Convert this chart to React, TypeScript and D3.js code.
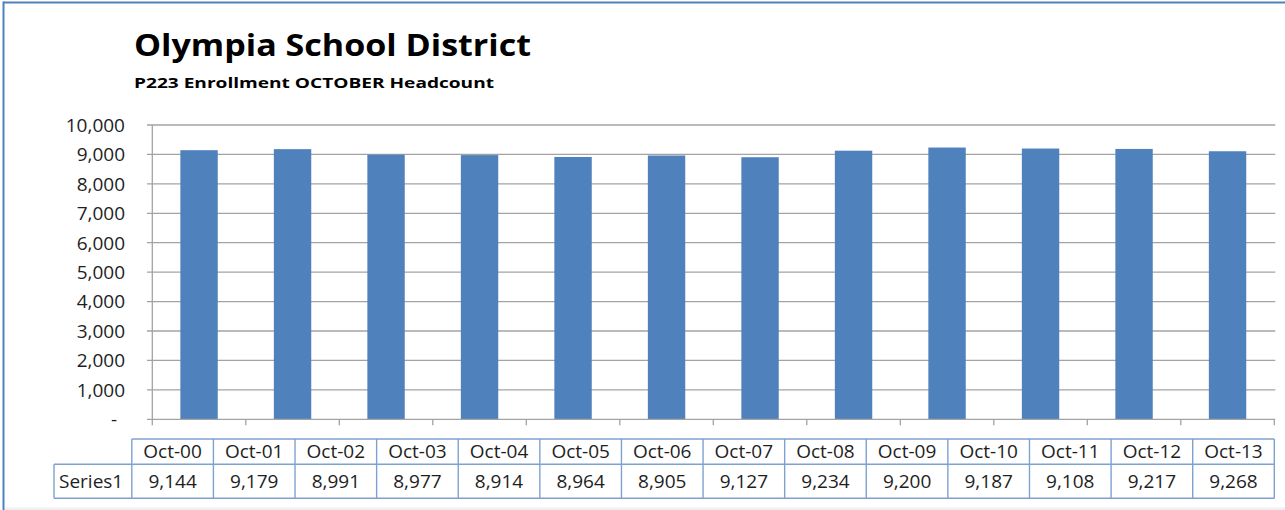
import React from "react";
import * as d3 from "d3";

const categories = ["Oct-00","Oct-01","Oct-02","Oct-03","Oct-04","Oct-05","Oct-06","Oct-07","Oct-08","Oct-09","Oct-10","Oct-11","Oct-12","Oct-13"];
const values = [9144, 9179, 8991, 8977, 8914, 8964, 8905, 9127, 9234, 9200, 9187, 9108, 9217, 9268];
const seriesName = "Series1";
const yTicks = [0, 1000, 2000, 3000, 4000, 5000, 6000, 7000, 8000, 9000, 10000];
const visibleBarCount = 12;
const title = "Olympia School District";
const subtitle = "P223 Enrollment OCTOBER Headcount";

const W = 1285;
const H = 510;
const FONT = "'Open Sans', 'DejaVu Sans', sans-serif";
const BAR = "#4F81BD";
const GRID = "#a3a3a3";
const TBL = "#7ea2d0";
const TXT = "#1e1e1e";

export default function App() {
  const plotLeft = 152.3;
  const plotRight = 1274.3;
  const yTop = 125;
  const yBottom = 419.3;

  const barCats = categories.slice(0, visibleBarCount);
  const x = d3.scaleBand<string>().domain(barCats).range([plotLeft, plotRight]).paddingInner(0.6).paddingOuter(0.3);
  const xTickScale = d3.scaleLinear().domain([0, visibleBarCount]).range([plotLeft, plotRight]);
  const y = d3.scaleLinear().domain([0, 10000]).range([yBottom, yTop]);
  const fmt = d3.format(",");

  const tblLeft = 131.8;
  const tblRight = 1274.3;
  const col = d3.scaleBand<string>().domain(categories).range([tblLeft, tblRight]);
  const rowTop = 439;
  const rowMid = 464.3;
  const rowBot = 498.3;
  const labelLeft = 54;

  return (
    <div style={{ position: "fixed", left: 0, top: 0, width: W, height: H, background: "#fff" }}>
      <svg width={W} height={H} style={{ display: "block" }} fontFamily={FONT}>
        <rect x={0} y={0} width={W} height={H} fill="#fff" />
        {/* outer chart border */}
        <line x1={3.5} x2={W} y1={2.5} y2={2.5} stroke="#4f81bd" strokeWidth={2} />
        <line x1={3.5} x2={3.5} y1={1.5} y2={H} stroke="#4f81bd" strokeWidth={2} />
        <rect x={5} y={507.5} width={W - 5} height={3} fill="#f0f0f0" />

        {/* titles */}
        <text x={134} y={56} fontSize={30} fontWeight={700} fill="#000" textLength={397} lengthAdjust="spacingAndGlyphs">{title}</text>
        <text x={134} y={88} fontSize={14.5} fontWeight={700} fill="#000" textLength={360} lengthAdjust="spacingAndGlyphs">{subtitle}</text>

        {/* gridlines & y ticks */}
        {yTicks.map((t) => (
          <g key={t}>
            {t > 0 && <line x1={147} x2={plotRight + 1} y1={y(t)} y2={y(t)} stroke={GRID} strokeWidth={1.3} />}
            <text
              x={t === 0 ? 117 : 125}
              y={y(t)}
              dy="0.36em"
              textAnchor="end"
              fontSize={19}
              fill={TXT}
            >
              {t === 0 ? "-" : fmt(t)}
            </text>
          </g>
        ))}

        {/* bars */}
        {barCats.map((c, i) => (
          <rect key={c} x={x(c)} y={y(values[i])} width={x.bandwidth()} height={y(0) - y(values[i])} fill={BAR} />
        ))}

        {/* axes */}
        <line x1={plotLeft} x2={plotLeft} y1={yTop} y2={yBottom} stroke={GRID} strokeWidth={1.3} />
        <line x1={147} x2={plotRight + 1} y1={yBottom} y2={yBottom} stroke={GRID} strokeWidth={1.3} />
        {d3.range(visibleBarCount + 1).map((k) => (
          <line key={k} x1={xTickScale(k)} x2={xTickScale(k)} y1={yBottom} y2={yBottom + 6} stroke={GRID} strokeWidth={1.3} />
        ))}

        {/* data table */}
        <g stroke={TBL} strokeWidth={1.4} fill="none">
          <line x1={tblLeft} x2={tblRight} y1={rowTop} y2={rowTop} />
          <line x1={labelLeft} x2={tblRight} y1={rowMid} y2={rowMid} />
          <line x1={labelLeft} x2={tblRight} y1={rowBot} y2={rowBot} />
          <line x1={labelLeft} x2={labelLeft} y1={rowMid} y2={rowBot} />
          {categories.map((c) => (
            <line key={c} x1={col(c)} x2={col(c)} y1={rowTop} y2={rowBot} />
          ))}
          <line x1={tblRight} x2={tblRight} y1={rowTop} y2={rowBot} />
        </g>
        <text x={59} y={(rowMid + rowBot) / 2} dy="0.36em" fontSize={19} fill={TXT}>{seriesName}</text>
        {categories.map((c, i) => (
          <g key={c}>
            <text x={(col(c) as number) + col.bandwidth() / 2} y={(rowTop + rowMid) / 2} dy="0.36em" textAnchor="middle" fontSize={19} fill={TXT}>{c}</text>
            <text x={(col(c) as number) + col.bandwidth() / 2} y={(rowMid + rowBot) / 2} dy="0.36em" textAnchor="middle" fontSize={19} fill={TXT}>{fmt(values[i])}</text>
          </g>
        ))}
      </svg>
    </div>
  );
}
